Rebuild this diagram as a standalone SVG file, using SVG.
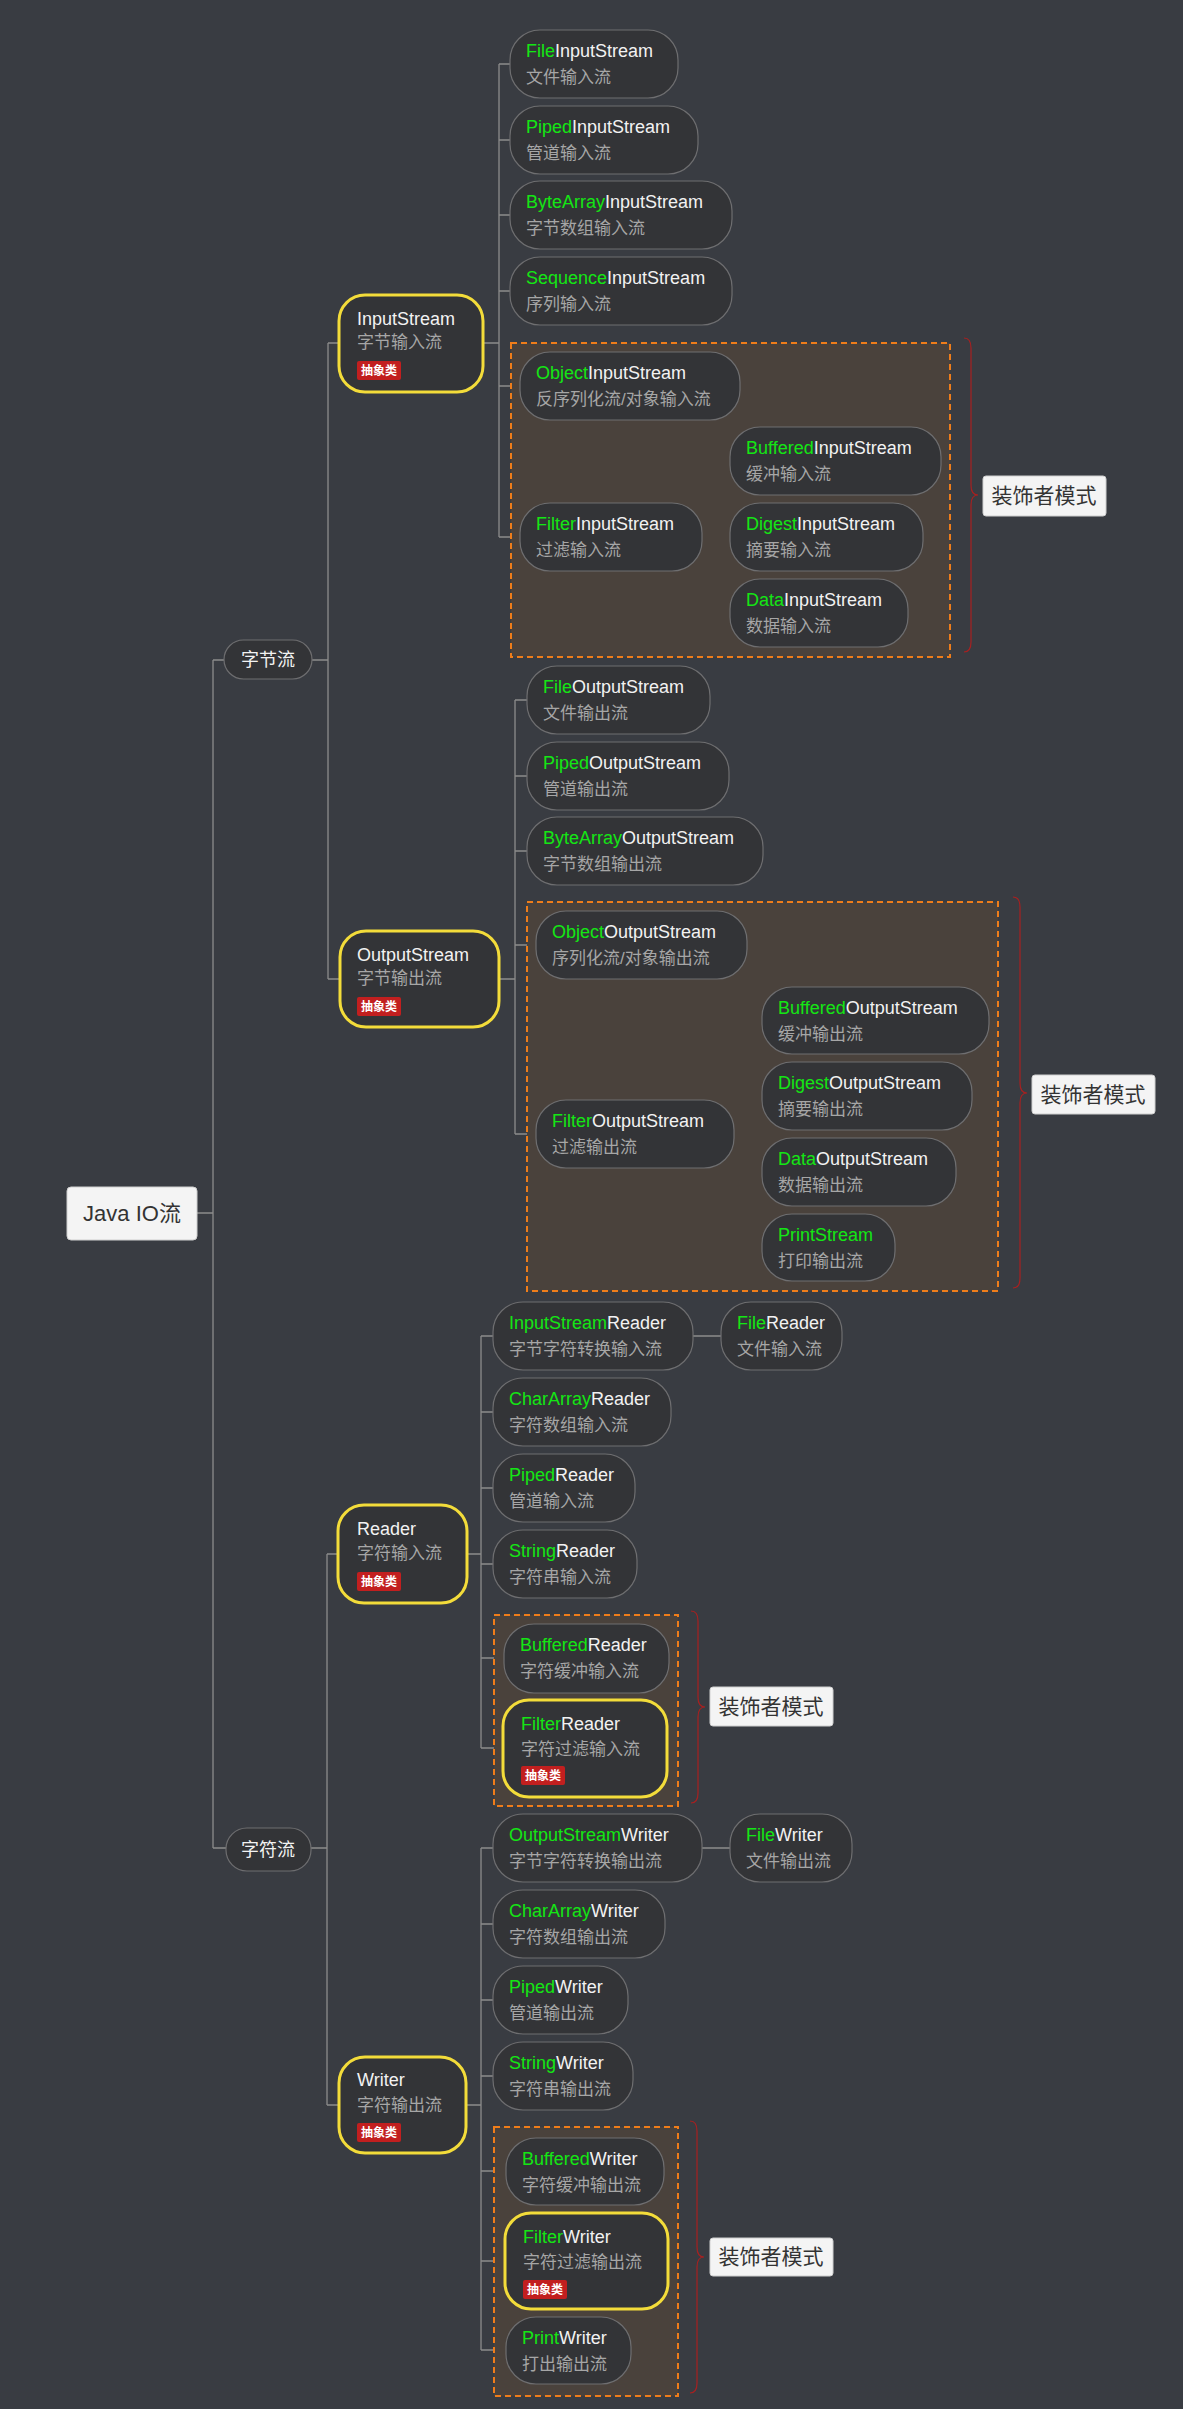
<svg xmlns="http://www.w3.org/2000/svg" width="1183" height="2409" viewBox="0 0 1183 2409">
<style>
text{font-family:"Liberation Sans","Noto Sans CJK SC",sans-serif}
.n{fill:#333437;stroke:#6e6e70;stroke-width:1.2}
.y{fill:#333437;stroke:#f3dc3a;stroke-width:3}
.t{font-size:18px;fill:#f2f2f2}
.g{fill:#14e614}
.s{font-size:17px;fill:#a6a6a6}
.box{fill:#4a423c;stroke:#ef7d1a;stroke-width:2;stroke-dasharray:6 4}
.c{fill:none;stroke:#8c8c8c;stroke-width:1.3}
.br{fill:none;stroke:#a82020;stroke-width:1.2}
.lb{fill:#f4f4f4;stroke:#cfcfcf}
.lt{font-size:21px;fill:#333}
.bd{fill:#c21f1f}
.bt{font-size:12px;fill:#fff;font-weight:bold}
</style>
<rect width="1183" height="2409" fill="#393c42"/>
<g id="connectors">
<path class="c" d="M197 1213H213M213 660V1848M213 660H224M213 1848H226"/>
<path class="c" d="M312 660H328M328 343V979M328 343H339M328 979H340"/>
<path class="c" d="M483 343H499M499 64V537M499 64H510M499 140H510M499 215H510M499 291H510M499 386H520M499 537H520M702 537H718M718 461V613M718 461H730M718 537H730M718 613H730"/>
<path class="c" d="M499 979H515M515 700V1134M515 700H527M515 776H527M515 851H527M515 945H536M515 1134H536M734 1134H751M751 1020V1248M751 1020H762M751 1096H762M751 1172H762M751 1248H762"/>
<path class="c" d="M311 1848H327M327 1554V2105M327 1554H338M327 2105H339"/>
<path class="c" d="M467 1554H481M481 1336V1748M481 1336H493M481 1412H493M481 1488H493M481 1564H493M481 1658H504M481 1748H503M693 1336H721"/>
<path class="c" d="M466 2105H481M481 1848V2350M481 1848H493M481 1924H493M481 2000H493M481 2076H493M481 2171H506M481 2261H505M481 2350H506M702 1848H730"/>
</g>
<g id="boxes">
<rect class="box" x="511" y="343" width="439" height="314"/>
<rect class="box" x="527" y="902" width="471" height="389"/>
<rect class="box" x="494" y="1615" width="184" height="191"/>
<rect class="box" x="494" y="2127" width="184" height="269"/>
<path class="br" d="M964 338Q971 338 971 348V485Q971 495 978 495Q971 495 971 505V642Q971 652 964 652"/>
<path class="br" d="M1013 897Q1020 897 1020 907V1083Q1020 1093 1027 1093Q1020 1093 1020 1103V1278Q1020 1288 1013 1288"/>
<path class="br" d="M691 1611Q698 1611 698 1621V1697Q698 1707 705 1707Q698 1707 698 1717V1793Q698 1803 691 1803"/>
<path class="br" d="M690 2121Q697 2121 697 2131V2247Q697 2257 704 2257Q697 2257 697 2267V2383Q697 2393 690 2393"/>
</g>
<g id="label1"><rect class="lb" x="983" y="476" width="123" height="40" rx="3"/><text class="lt" x="1044" y="503" text-anchor="middle">装饰者模式</text></g>
<g id="label2"><rect class="lb" x="1032" y="1075" width="123" height="39" rx="3"/><text class="lt" x="1093" y="1102" text-anchor="middle">装饰者模式</text></g>
<g id="label3"><rect class="lb" x="710" y="1687" width="123" height="39" rx="3"/><text class="lt" x="771" y="1714" text-anchor="middle">装饰者模式</text></g>
<g id="label4"><rect class="lb" x="710" y="2238" width="123" height="38" rx="3"/><text class="lt" x="771" y="2264" text-anchor="middle">装饰者模式</text></g>

<g id="root"><rect x="67" y="1187" width="130" height="53" rx="4" fill="#f4f4f4" stroke="#cfcfcf"/><text x="132" y="1221" text-anchor="middle" font-size="22" fill="#333">Java IO流</text></g>
<g id="bytestream"><rect class="n" x="224" y="640" width="88" height="39" rx="19.5"/><text class="t" x="268" y="666" text-anchor="middle" font-size="17">字节流</text></g>
<g id="charstream"><rect class="n" x="226" y="1828" width="85" height="43" rx="21"/><text class="t" x="268" y="1856" text-anchor="middle" font-size="17">字符流</text></g>

<g id="InputStream"><rect class="y" x="339" y="295" width="144" height="97" rx="26"/><text class="t" x="357" y="325">InputStream</text><text class="s" x="357" y="348">字节输入流</text><rect class="bd" x="357" y="361" width="44" height="19" rx="2"/><text class="bt" x="379" y="375" text-anchor="middle">抽象类</text></g>
<g id="FileInputStream"><rect class="n" x="510" y="30" width="168" height="68" rx="30"/><text class="t" x="526" y="57"><tspan class="g">File</tspan>InputStream</text><text class="s" x="526" y="83">文件输入流</text></g>
<g id="PipedInputStream"><rect class="n" x="510" y="106" width="188" height="68" rx="30"/><text class="t" x="526" y="133"><tspan class="g">Piped</tspan>InputStream</text><text class="s" x="526" y="159">管道输入流</text></g>
<g id="ByteArrayInputStream"><rect class="n" x="510" y="181" width="222" height="68" rx="30"/><text class="t" x="526" y="208"><tspan class="g">ByteArray</tspan>InputStream</text><text class="s" x="526" y="234">字节数组输入流</text></g>
<g id="SequenceInputStream"><rect class="n" x="510" y="257" width="222" height="68" rx="30"/><text class="t" x="526" y="284"><tspan class="g">Sequence</tspan>InputStream</text><text class="s" x="526" y="310">序列输入流</text></g>
<g id="ObjectInputStream"><rect class="n" x="520" y="352" width="220" height="68" rx="30"/><text class="t" x="536" y="379"><tspan class="g">Object</tspan>InputStream</text><text class="s" x="536" y="405">反序列化流/对象输入流</text></g>
<g id="FilterInputStream"><rect class="n" x="520" y="503" width="182" height="68" rx="30"/><text class="t" x="536" y="530"><tspan class="g">Filter</tspan>InputStream</text><text class="s" x="536" y="556">过滤输入流</text></g>
<g id="BufferedInputStream"><rect class="n" x="730" y="427" width="211" height="68" rx="30"/><text class="t" x="746" y="454"><tspan class="g">Buffered</tspan>InputStream</text><text class="s" x="746" y="480">缓冲输入流</text></g>
<g id="DigestInputStream"><rect class="n" x="730" y="503" width="193" height="68" rx="30"/><text class="t" x="746" y="530"><tspan class="g">Digest</tspan>InputStream</text><text class="s" x="746" y="556">摘要输入流</text></g>
<g id="DataInputStream"><rect class="n" x="730" y="579" width="178" height="68" rx="30"/><text class="t" x="746" y="606"><tspan class="g">Data</tspan>InputStream</text><text class="s" x="746" y="632">数据输入流</text></g>

<g id="OutputStream"><rect class="y" x="340" y="931" width="159" height="96" rx="26"/><text class="t" x="357" y="961">OutputStream</text><text class="s" x="357" y="984">字节输出流</text><rect class="bd" x="357" y="997" width="44" height="19" rx="2"/><text class="bt" x="379" y="1011" text-anchor="middle">抽象类</text></g>
<g id="FileOutputStream"><rect class="n" x="527" y="666" width="183" height="68" rx="30"/><text class="t" x="543" y="693"><tspan class="g">File</tspan>OutputStream</text><text class="s" x="543" y="719">文件输出流</text></g>
<g id="PipedOutputStream"><rect class="n" x="527" y="742" width="202" height="68" rx="30"/><text class="t" x="543" y="769"><tspan class="g">Piped</tspan>OutputStream</text><text class="s" x="543" y="795">管道输出流</text></g>
<g id="ByteArrayOutputStream"><rect class="n" x="527" y="817" width="236" height="68" rx="30"/><text class="t" x="543" y="844"><tspan class="g">ByteArray</tspan>OutputStream</text><text class="s" x="543" y="870">字节数组输出流</text></g>
<g id="ObjectOutputStream"><rect class="n" x="536" y="911" width="211" height="68" rx="30"/><text class="t" x="552" y="938"><tspan class="g">Object</tspan>OutputStream</text><text class="s" x="552" y="964">序列化流/对象输出流</text></g>
<g id="FilterOutputStream"><rect class="n" x="536" y="1100" width="198" height="68" rx="30"/><text class="t" x="552" y="1127"><tspan class="g">Filter</tspan>OutputStream</text><text class="s" x="552" y="1153">过滤输出流</text></g>
<g id="BufferedOutputStream"><rect class="n" x="762" y="987" width="227" height="67" rx="30"/><text class="t" x="778" y="1014"><tspan class="g">Buffered</tspan>OutputStream</text><text class="s" x="778" y="1040">缓冲输出流</text></g>
<g id="DigestOutputStream"><rect class="n" x="762" y="1062" width="210" height="68" rx="30"/><text class="t" x="778" y="1089"><tspan class="g">Digest</tspan>OutputStream</text><text class="s" x="778" y="1115">摘要输出流</text></g>
<g id="DataOutputStream"><rect class="n" x="762" y="1138" width="194" height="68" rx="30"/><text class="t" x="778" y="1165"><tspan class="g">Data</tspan>OutputStream</text><text class="s" x="778" y="1191">数据输出流</text></g>
<g id="PrintStream"><rect class="n" x="762" y="1214" width="133" height="67" rx="30"/><text class="t" x="778" y="1241"><tspan class="g">Print</tspan><tspan class="g">Stream</tspan></text><text class="s" x="778" y="1267">打印输出流</text></g>

<g id="Reader"><rect class="y" x="338" y="1505" width="129" height="98" rx="26"/><text class="t" x="357" y="1535">Reader</text><text class="s" x="357" y="1559">字符输入流</text><rect class="bd" x="357" y="1572" width="44" height="19" rx="2"/><text class="bt" x="379" y="1586" text-anchor="middle">抽象类</text></g>
<g id="InputStreamReader"><rect class="n" x="493" y="1302" width="200" height="68" rx="30"/><text class="t" x="509" y="1329"><tspan class="g">InputStream</tspan>Reader</text><text class="s" x="509" y="1355">字节字符转换输入流</text></g>
<g id="FileReader"><rect class="n" x="721" y="1302" width="121" height="68" rx="30"/><text class="t" x="737" y="1329"><tspan class="g">File</tspan>Reader</text><text class="s" x="737" y="1355">文件输入流</text></g>
<g id="CharArrayReader"><rect class="n" x="493" y="1378" width="178" height="68" rx="30"/><text class="t" x="509" y="1405"><tspan class="g">CharArray</tspan>Reader</text><text class="s" x="509" y="1431">字符数组输入流</text></g>
<g id="PipedReader"><rect class="n" x="493" y="1454" width="142" height="68" rx="30"/><text class="t" x="509" y="1481"><tspan class="g">Piped</tspan>Reader</text><text class="s" x="509" y="1507">管道输入流</text></g>
<g id="StringReader"><rect class="n" x="493" y="1530" width="144" height="68" rx="30"/><text class="t" x="509" y="1557"><tspan class="g">String</tspan>Reader</text><text class="s" x="509" y="1583">字符串输入流</text></g>
<g id="BufferedReader"><rect class="n" x="504" y="1624" width="165" height="69" rx="30"/><text class="t" x="520" y="1651"><tspan class="g">Buffered</tspan>Reader</text><text class="s" x="520" y="1677">字符缓冲输入流</text></g>
<g id="FilterReader"><rect class="y" x="503" y="1700" width="164" height="97" rx="26"/><text class="t" x="521" y="1730"><tspan class="g">Filter</tspan>Reader</text><text class="s" x="521" y="1755">字符过滤输入流</text><rect class="bd" x="521" y="1766" width="44" height="19" rx="2"/><text class="bt" x="543" y="1780" text-anchor="middle">抽象类</text></g>

<g id="Writer"><rect class="y" x="339" y="2057" width="127" height="96" rx="26"/><text class="t" x="357" y="2086">Writer</text><text class="s" x="357" y="2111">字符输出流</text><rect class="bd" x="357" y="2123" width="44" height="19" rx="2"/><text class="bt" x="379" y="2137" text-anchor="middle">抽象类</text></g>
<g id="OutputStreamWriter"><rect class="n" x="493" y="1814" width="209" height="68" rx="30"/><text class="t" x="509" y="1841"><tspan class="g">OutputStream</tspan>Writer</text><text class="s" x="509" y="1867">字节字符转换输出流</text></g>
<g id="FileWriter"><rect class="n" x="730" y="1814" width="122" height="68" rx="30"/><text class="t" x="746" y="1841"><tspan class="g">File</tspan>Writer</text><text class="s" x="746" y="1867">文件输出流</text></g>
<g id="CharArrayWriter"><rect class="n" x="493" y="1890" width="172" height="68" rx="30"/><text class="t" x="509" y="1917"><tspan class="g">CharArray</tspan>Writer</text><text class="s" x="509" y="1943">字符数组输出流</text></g>
<g id="PipedWriter"><rect class="n" x="493" y="1966" width="135" height="68" rx="30"/><text class="t" x="509" y="1993"><tspan class="g">Piped</tspan>Writer</text><text class="s" x="509" y="2019">管道输出流</text></g>
<g id="StringWriter"><rect class="n" x="493" y="2042" width="140" height="68" rx="30"/><text class="t" x="509" y="2069"><tspan class="g">String</tspan>Writer</text><text class="s" x="509" y="2095">字符串输出流</text></g>
<g id="BufferedWriter"><rect class="n" x="506" y="2138" width="158" height="67" rx="30"/><text class="t" x="522" y="2165"><tspan class="g">Buffered</tspan>Writer</text><text class="s" x="522" y="2191">字符缓冲输出流</text></g>
<g id="FilterWriter"><rect class="y" x="505" y="2213" width="163" height="96" rx="26"/><text class="t" x="523" y="2243"><tspan class="g">Filter</tspan>Writer</text><text class="s" x="523" y="2268">字符过滤输出流</text><rect class="bd" x="523" y="2280" width="44" height="19" rx="2"/><text class="bt" x="545" y="2294" text-anchor="middle">抽象类</text></g>
<g id="PrintWriter"><rect class="n" x="506" y="2317" width="125" height="67" rx="30"/><text class="t" x="522" y="2344"><tspan class="g">Print</tspan>Writer</text><text class="s" x="522" y="2370">打出输出流</text></g>
</svg>
